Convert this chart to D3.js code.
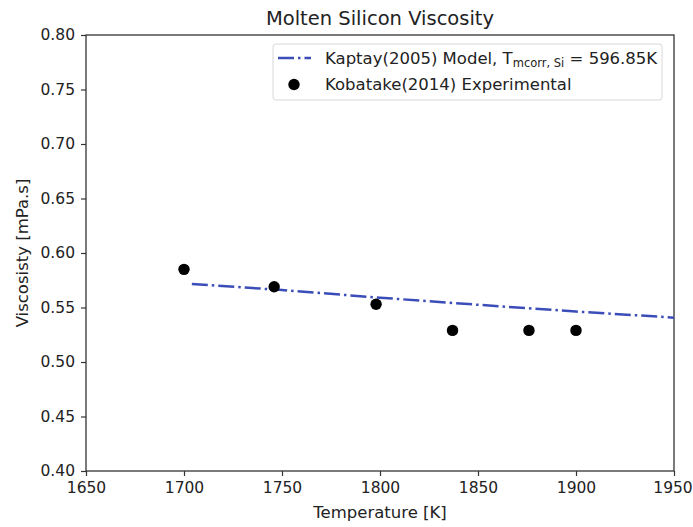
<!DOCTYPE html>
<html>
<head>
<meta charset="utf-8">
<script src="https://cdn.jsdelivr.net/npm/d3@7"></script>
<style>
  body { margin: 0; background: #fff; }
  text { font-family: "DejaVu Sans", sans-serif; fill: #222; }
</style>
</head>
<body>
<script>
// data
var expTemp = [1700, 1746, 1798, 1837, 1876, 1900];
var expVisc = [0.585, 0.569, 0.553, 0.529, 0.529, 0.529];

var modelTemp = [1704, 1750, 1800, 1850, 1900, 1950];
var modelVisc = [0.5716, 0.5660, 0.5590, 0.5525, 0.5463, 0.5407];

var xTicks = [1650, 1700, 1750, 1800, 1850, 1900, 1950];
var yTicks = [0.40, 0.45, 0.50, 0.55, 0.60, 0.65, 0.70, 0.75, 0.80];

var lineColour = "#3b4db8";
var frameColour = "#333333";

var svg = d3.select("body").append("svg")
    .attr("width", 693)
    .attr("height", 527);

// plot area edges
var pLeft = 86, pRight = 674, pTop = 35, pBottom = 471;

var x = d3.scaleLinear().domain([1650, 1950]).range([pLeft, pRight]);
var y = d3.scaleLinear().domain([0.40, 0.80]).range([pBottom, pTop]);

// axes
var xAxis = svg.append("g")
    .attr("transform", "translate(0," + pBottom + ")")
    .call(d3.axisBottom(x).tickValues(xTicks).tickFormat(d3.format("d")).tickSize(5).tickPadding(6));

var yAxis = svg.append("g")
    .attr("transform", "translate(" + pLeft + ",0)")
    .call(d3.axisLeft(y).tickValues(yTicks).tickFormat(d3.format(".2f")).tickSize(5).tickPadding(6));

[xAxis, yAxis].forEach(function(a) {
  a.select(".domain").remove();
  a.selectAll("line").attr("stroke", frameColour).attr("stroke-width", 1.2);
  a.selectAll("text")
    .style("font-family", "DejaVu Sans, sans-serif")
    .style("font-size", "15.5px")
    .attr("fill", "#222");
});

// last x label sits right at the page edge, nudge it in
xAxis.selectAll(".tick text")
    .filter(function(d) { return d === 1950; })
    .attr("dx", -1.5);

// frame
svg.append("rect")
    .attr("x", pLeft)
    .attr("y", pTop)
    .attr("width", pRight - pLeft)
    .attr("height", pBottom - pTop)
    .attr("fill", "none")
    .attr("stroke", frameColour)
    .attr("stroke-width", 1.3);

// model line
var modelData = modelTemp.map(function(t, i) { return [t, modelVisc[i]]; });
svg.append("path")
    .datum(modelData)
    .attr("d", d3.line().x(function(d) { return x(d[0]); }).y(function(d) { return y(d[1]); }))
    .attr("fill", "none")
    .attr("stroke", lineColour)
    .attr("stroke-width", 2.5)
    .attr("stroke-dasharray", "16,4,2.5,4");

// experimental points
svg.selectAll(".pt")
    .data(expTemp)
    .enter().append("circle")
    .attr("class", "pt")
    .attr("cx", function(d) { return x(d); })
    .attr("cy", function(d, i) { return y(expVisc[i]); })
    .attr("r", 5.7)
    .attr("fill", "#000");

// title and labels
svg.append("text")
    .attr("x", (pLeft + pRight) / 2)
    .attr("y", 25)
    .attr("text-anchor", "middle")
    .style("font-size", "19.5px")
    .text("Molten Silicon Viscosity");

svg.append("text")
    .attr("x", (pLeft + pRight) / 2)
    .attr("y", 518)
    .attr("text-anchor", "middle")
    .style("font-size", "16.5px")
    .text("Temperature [K]");

svg.append("text")
    .attr("transform", "translate(28," + ((pTop + pBottom) / 2) + ") rotate(-90)")
    .attr("text-anchor", "middle")
    .style("font-size", "16.5px")
    .text("Viscosisty [mPa.s]");

// legend
var legend = svg.append("g");
legend.append("rect")
    .attr("x", 273)
    .attr("y", 44)
    .attr("width", 389)
    .attr("height", 56)
    .attr("rx", 3)
    .attr("fill", "#fff")
    .attr("fill-opacity", 0.8)
    .attr("stroke", "#d8d8d8");

legend.append("line")
    .attr("x1", 278).attr("x2", 311)
    .attr("y1", 58).attr("y2", 58)
    .attr("stroke", lineColour)
    .attr("stroke-width", 2.5)
    .attr("stroke-dasharray", "16,4,2.5,4");

legend.append("circle")
    .attr("cx", 294)
    .attr("cy", 84.5)
    .attr("r", 5.7)
    .attr("fill", "#000");

var t1 = legend.append("text")
    .attr("x", 325)
    .attr("y", 64)
    .style("font-size", "16.5px");
t1.append("tspan").text("Kaptay(2005) Model, T");
t1.append("tspan").attr("dy", 3).style("font-size", "11.5px").text("mcorr, Si");
t1.append("tspan").attr("dy", -3).text(" = 596.85K");

legend.append("text")
    .attr("x", 325)
    .attr("y", 90)
    .style("font-size", "16.5px")
    .text("Kobatake(2014) Experimental");
</script>
</body>
</html>
